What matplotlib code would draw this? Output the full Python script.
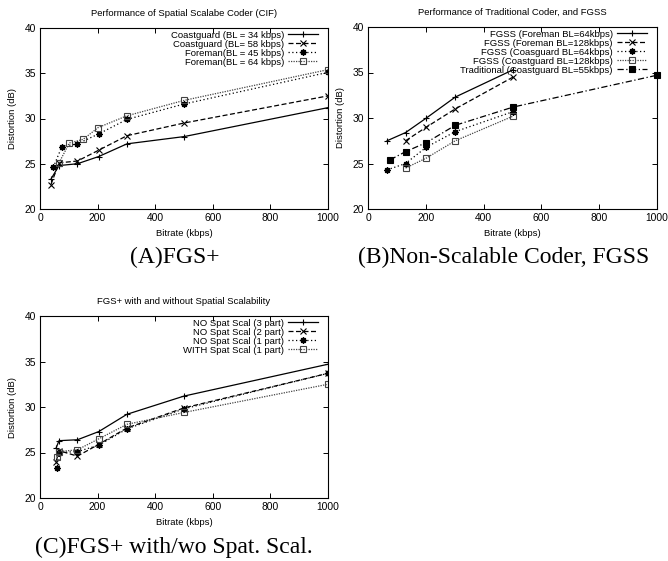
import matplotlib
matplotlib.use("Agg")
import matplotlib.pyplot as plt

plt.rcParams["font.family"] = ["Liberation Sans", "DejaVu Sans"]

# ---- panel A: spatial scalable coder (CIF)
a_cg34_x = [38, 66, 130, 204, 302, 500, 1000]
a_cg34_y = [23.3, 24.8, 25.0, 25.8, 27.2, 28.0, 31.2]
a_cg58_x = [38, 66, 130, 204, 302, 500, 1000]
a_cg58_y = [22.7, 25.1, 25.3, 26.5, 28.1, 29.5, 32.5]
a_fm45_x = [46, 76, 130, 204, 302, 500, 1000]
a_fm45_y = [24.6, 26.9, 27.2, 28.3, 29.9, 31.6, 35.1]
a_fm64_x = [66, 102, 150, 202, 302, 500, 1000]
a_fm64_y = [25.1, 27.3, 27.7, 29.0, 30.3, 32.0, 35.4]

# ---- panel B: traditional coder and FGSS
b_fm64_x = [66, 130, 202, 302, 502]
b_fm64_y = [27.5, 28.4, 30.0, 32.3, 35.3]
b_fm128_x = [130, 202, 302, 502]
b_fm128_y = [27.5, 29.0, 31.0, 34.5]
b_cg64_x = [66, 130, 202, 302, 502]
b_cg64_y = [24.3, 25.0, 26.8, 28.5, 30.7]
b_cg128_x = [130, 202, 302, 502]
b_cg128_y = [24.5, 25.6, 27.5, 30.2]
b_trad_x = [76, 130, 202, 302, 502, 1000]
b_trad_y = [25.4, 26.3, 27.3, 29.2, 31.2, 34.7]

# ---- panel C: FGS+ with and without spatial scalability
c_p3_x = [56, 66, 130, 204, 302, 500, 1000]
c_p3_y = [25.5, 26.3, 26.4, 27.3, 29.2, 31.2, 34.7]
c_p2_x = [56, 66, 130, 204, 302, 500, 1000]
c_p2_y = [24.0, 25.2, 24.6, 25.9, 27.7, 29.9, 33.7]
c_p1_x = [58, 66, 130, 204, 302, 500, 1000]
c_p1_y = [23.3, 25.0, 25.1, 25.8, 27.6, 29.8, 33.7]
c_sp_x = [58, 66, 130, 204, 302, 500, 1000]
c_sp_y = [24.5, 25.1, 25.3, 26.5, 28.1, 29.4, 32.5]

W, H = 668, 561
fig = plt.figure(figsize=(W / 100, H / 100), dpi=100)


def px_axes(left, top, right, bottom):
    return fig.add_axes([left / W, 1 - bottom / H, (right - left) / W, (bottom - top) / H])


STY = {
    "solid": dict(color="black", ls="-", marker="+", ms=5, mew=0.8),
    "dash": dict(color="black", ls=(0, (4, 2)), marker="x", ms=4, mew=0.8),
    "dot": dict(color="black", ls=(0, (1, 2)), marker=(8, 2, 0), ms=4.5, mew=1.0),
    "fine": dict(color="#444444", ls=(0, (1, 1)), marker="s", ms=4, mew=0.8, mfc="none"),
    "dashdot": dict(color="black", ls=(0, (5, 2, 1, 2)), marker="s", ms=4.5, mew=0.8),
}


def style_axes(ax, title):
    ax.set_xlim(0, 1000)
    ax.set_ylim(20, 40)
    ax.set_xticks(range(0, 1001, 200))
    ax.set_yticks(range(20, 41, 5))
    ax.tick_params(direction="in", top=True, right=True, length=3.5, width=0.7,
                   labelsize=7.4, pad=3)
    for sp in ax.spines.values():
        sp.set_linewidth(0.8)
    ax.set_title(title, fontsize=6.8, pad=9)
    ax.set_xlabel("Bitrate (kbps)", fontsize=6.8, labelpad=4)
    ax.set_ylabel("Distortion (dB)", fontsize=6.8, labelpad=5)
    ax.legend(loc="upper right", bbox_to_anchor=(0.965, 0.985), frameon=False,
              markerfirst=False, fontsize=6.8, handlelength=3.2, handletextpad=0.4,
              labelspacing=0.0, borderaxespad=0.0, borderpad=0.0)


axA = px_axes(40, 28, 328, 209)
axA.plot(a_cg34_x, a_cg34_y, lw=0.9, label="Coastguard (BL = 34 kbps)", **STY["solid"])
axA.plot(a_cg58_x, a_cg58_y, lw=0.9, label="Coastguard (BL= 58 kbps)", **STY["dash"])
axA.plot(a_fm45_x, a_fm45_y, lw=0.9, label="Foreman(BL = 45 kbps)", **STY["dot"])
axA.plot(a_fm64_x, a_fm64_y, lw=0.9, label="Foreman(BL = 64 kbps)", **STY["fine"])
style_axes(axA, "Performance of Spatial Scalabe Coder (CIF)")

axB = px_axes(368, 27, 657, 209)
axB.plot(b_fm64_x, b_fm64_y, lw=0.9, label="FGSS (Foreman BL=64kbps)", **STY["solid"])
axB.plot(b_fm128_x, b_fm128_y, lw=0.9, label="FGSS (Foreman BL=128kbps)", **STY["dash"])
axB.plot(b_cg64_x, b_cg64_y, lw=0.9, label="FGSS (Coasguard BL=64kbps)", **STY["dot"])
axB.plot(b_cg128_x, b_cg128_y, lw=0.9, label="FGSS (Coastguard BL=128kbps)", **STY["fine"])
axB.plot(b_trad_x, b_trad_y, lw=0.9, label="Traditional (Coastguard BL=55kbps)",
         clip_on=False, **STY["dashdot"])
style_axes(axB, "Performance of Traditional Coder, and FGSS")

axC = px_axes(40, 316, 328, 498)
axC.plot(c_p3_x, c_p3_y, lw=0.9, label="NO Spat Scal (3 part)", **STY["solid"])
axC.plot(c_p2_x, c_p2_y, lw=0.9, label="NO Spat Scal (2 part)", **STY["dash"])
axC.plot(c_p1_x, c_p1_y, lw=0.9, label="NO Spat Scal (1 part)", **STY["dot"])
axC.plot(c_sp_x, c_sp_y, lw=0.9, label="WITH Spat Scal (1 part)", **STY["fine"])
style_axes(axC, "FGS+ with and without Spatial Scalability")

cap = dict(fontsize=17, family=["Liberation Serif", "DejaVu Serif"], ha="center", va="center")
fig.text(175 / W, 1 - 257 / H, "(A)FGS+", **cap)
fig.text(504 / W, 1 - 257 / H, "(B)Non-Scalable Coder, FGSS", **cap)
fig.text(174 / W, 1 - 547 / H, "(C)FGS+ with/wo Spat. Scal.", **cap)

fig.savefig("out.png", dpi=100)
